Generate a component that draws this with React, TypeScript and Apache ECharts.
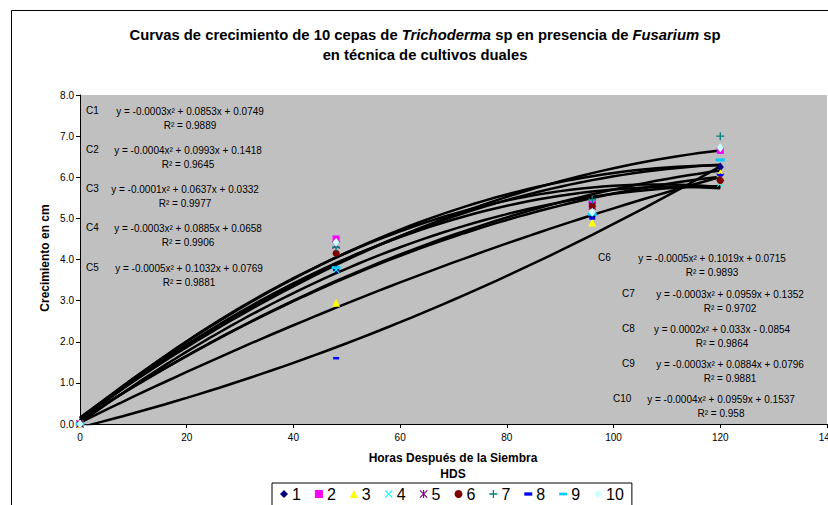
import React, { useEffect, useRef } from 'react';
import * as echarts from 'echarts';

// ---- Data ----
const hours = [0, 48, 96, 120];
const seriesNames = ['1', '2', '3', '4', '5', '6', '7', '8', '9', '10'];
const s1 = [0, 3.75, 5.05, 6.25];
const s2 = [0, 4.5, 5.35, 6.65];
const s3 = [0, 2.95, 4.9, 6.1];
const s4 = [0, 3.75, 5.4, 5.85];
const s5 = [0, 4.35, 5.3, 6.0];
const s6 = [0, 4.15, 5.3, 5.92];
const s7 = [0, 4.3, 5.45, 7.0];
const s8 = [0, 1.6, 5.0, 6.05];
const s9 = [0, 3.8, 5.1, 6.42];
const s10 = [0, 4.42, 5.15, 6.72];
const seriesValues = [s1, s2, s3, s4, s5, s6, s7, s8, s9, s10];

const xMin = 0, xMax = 140, xStep = 20;
const yMin = 0, yMax = 8, yStep = 1;

const strainLabels = ['C1', 'C2', 'C3', 'C4', 'C5', 'C6', 'C7', 'C8', 'C9', 'C10'];
const equations = [
  'y = -0.0003x² + 0.0853x + 0.0749',
  'y = -0.0004x² + 0.0993x + 0.1418',
  'y = -0.0001x² + 0.0637x + 0.0332',
  'y = -0.0003x² + 0.0885x + 0.0658',
  'y = -0.0005x² + 0.1032x + 0.0769',
  'y = -0.0005x² + 0.1019x + 0.0715',
  'y = -0.0003x² + 0.0959x + 0.1352',
  'y = 0.0002x² + 0.033x - 0.0854',
  'y = -0.0003x² + 0.0884x + 0.0796',
  'y = -0.0004x² + 0.0959x + 0.1537',
];
const r2Values = ['0.9889', '0.9645', '0.9977', '0.9906', '0.9881', '0.9893', '0.9702', '0.9864', '0.9881', '0.958'];

// ---- Styles ----
const colors = ['#000080', '#FF00FF', '#FFFF00', '#00FFFF', '#800080', '#800000', '#008080', '#0000FF', '#00CCFF', '#CCFFFF'];
const X_PATH = 'path://M0,1 L1,0 L5,4 L9,0 L10,1 L6,5 L10,9 L9,10 L5,6 L1,10 L0,9 L4,5 Z';
const STAR_PATH = 'path://M0,1 L1,0 L5,4 L9,0 L10,1 L6,5 L10,9 L9,10 L5,6 L1,10 L0,9 L4,5 Z M4.3,0 L5.7,0 L5.7,10 L4.3,10 Z';
const PLUS_PATH = 'path://M4.2,0 L5.8,0 L5.8,4.2 L10,4.2 L10,5.8 L5.8,5.8 L5.8,10 L4.2,10 L4.2,5.8 L0,5.8 L0,4.2 L4.2,4.2 Z';
const DASH_S = 'path://M0,0 L6,0 L6,2.5 L0,2.5 Z';
const DASH_L = 'path://M0,0 L9,0 L9,3 L0,3 Z';
const symbols = ['diamond', 'rect', 'triangle', X_PATH, STAR_PATH, 'circle', PLUS_PATH, DASH_S, DASH_L, 'diamond'];
const symbolSizes: any[] = [[7, 9], 7, 8, 7, 8, 7, 8, [6, 2.5], [9, 3], [7, 9]];

const FONT = 'Liberation Sans, Arial, sans-serif';

function quadFit(xs: number[], ys: number[]) {
  let n = xs.length, sx = 0, sx2 = 0, sx3 = 0, sx4 = 0, sy = 0, sxy = 0, sx2y = 0;
  for (let i = 0; i < n; i++) {
    const x = xs[i], y = ys[i];
    sx += x; sx2 += x * x; sx3 += x * x * x; sx4 += x * x * x * x;
    sy += y; sxy += x * y; sx2y += x * x * y;
  }
  const M = [
    [sx4, sx3, sx2, sx2y],
    [sx3, sx2, sx, sxy],
    [sx2, sx, n, sy],
  ];
  for (let c = 0; c < 3; c++) {
    let p = c;
    for (let r = c + 1; r < 3; r++) if (Math.abs(M[r][c]) > Math.abs(M[p][c])) p = r;
    [M[c], M[p]] = [M[p], M[c]];
    for (let r = 0; r < 3; r++) {
      if (r === c) continue;
      const f = M[r][c] / M[c][c];
      for (let k = c; k < 4; k++) M[r][k] -= f * M[c][k];
    }
  }
  return [M[0][3] / M[0][0], M[1][3] / M[1][1], M[2][3] / M[2][2]];
}

function trendPoints(vals: number[]) {
  const [a, b, c] = quadFit(hours, vals);
  const pts: number[][] = [];
  const x0 = hours[0], x1 = hours[hours.length - 1];
  for (let x = x0; x <= x1; x += 2) pts.push([x, a * x * x + b * x + c]);
  return pts;
}

export default function App() {
  const ref = useRef<HTMLDivElement>(null);
  useEffect(() => {
    if (!ref.current) return;
    const chart = echarts.init(ref.current, undefined, { renderer: 'svg' });

    const trendSeries = seriesValues.map((vals, i) => ({
      name: 'trend' + (i + 1),
      type: 'line',
      data: trendPoints(vals),
      showSymbol: false,
      symbol: 'none',
      silent: true,
      z: 2,
      lineStyle: { color: '#000', width: 2.5 },
    }));

    const scatterSeries = seriesValues.map((vals, i) => ({
      name: seriesNames[i],
      type: 'scatter',
      data: hours.map((h, j) => [h, vals[j]]),
      symbol: symbols[i],
      symbolSize: symbolSizes[i],
      z: 5,
      itemStyle: { color: colors[i], opacity: 1 },
    }));

    const leftRows = [110, 149, 188, 227, 267];
    const leftCenters = [190, 188, 185, 188, 189];
    const rightRows = [257, 293, 328, 363, 398];
    const rightLabelX = [598, 622, 622, 622, 613];
    const rightCenters = [712, 730, 722, 730, 721];
    const eqGraphics: any[] = [];
    for (let i = 0; i < 10; i++) {
      const left = i < 5;
      const k = left ? i : i - 5;
      const y = left ? leftRows[k] : rightRows[k];
      const lx = left ? 86 : rightLabelX[k];
      const cx = left ? leftCenters[k] : rightCenters[k];
      eqGraphics.push({
        type: 'text', x: lx, y: y, silent: true,
        style: { text: strainLabels[i], fill: '#000', font: `10px ${FONT}`, textAlign: 'left', textVerticalAlign: 'middle' },
      });
      eqGraphics.push({
        type: 'text', x: cx, y: y - 6, silent: true,
        style: { text: equations[i] + '\nR² = ' + r2Values[i], fill: '#000', font: `10px ${FONT}`, lineHeight: 14, textAlign: 'center', textVerticalAlign: 'top' },
      });
    }

    const option: any = {
      animation: false,
      backgroundColor: '#fff',
      textStyle: { fontFamily: FONT },
      grid: { left: 80, top: 95, right: 1, bottom: 81, show: true, backgroundColor: '#C0C0C0', borderWidth: 0, outerBoundsMode: 'none', containLabel: false },
      xAxis: {
        type: 'value', min: xMin, max: xMax, interval: xStep,
        axisLine: { show: true, onZero: false, lineStyle: { color: '#000', width: 1 } },
        axisTick: { show: true, length: 4, lineStyle: { color: '#000' } },
        axisLabel: { fontSize: 10, color: '#000', margin: 8, fontFamily: FONT, showMaxLabel: true, hideOverlap: false },
        splitLine: { show: false },
      },
      yAxis: {
        type: 'value', min: yMin, max: yMax, interval: yStep,
        axisLine: { show: true, onZero: false, lineStyle: { color: '#000', width: 1 } },
        axisTick: { show: true, length: 4, lineStyle: { color: '#000' } },
        axisLabel: { fontSize: 10, color: '#000', margin: 6, fontFamily: FONT, formatter: (v: number) => v.toFixed(1) },
        splitLine: { show: false },
      },
      legend: {
        data: seriesNames,
        left: 272, top: 483,
        orient: 'horizontal',
        itemWidth: 8, itemHeight: 8, itemGap: 14,
        borderColor: '#000', borderWidth: 1, backgroundColor: '#fff',
        padding: [3, 8, 10, 8],
        textStyle: { fontSize: 16, color: '#000', fontFamily: FONT, padding: [0, 0, 0, -1] },
      },
      graphic: [
        {
          type: 'rect', silent: true, z: -10,
          shape: { x: 11.5, y: 10.5, width: 840, height: 520 },
          style: { fill: 'none', stroke: '#000', lineWidth: 1 },
        },
        {
          type: 'text', x: 425, y: 35, silent: true,
          style: {
            text: '{b|Curvas de crecimiento de 10 cepas de }{i|Trichoderma}{b| sp en presencia de }{i|Fusarium}{b| sp}',
            rich: {
              b: { fontFamily: FONT, fontSize: 14.8, fontWeight: 'bold', fill: '#000' },
              i: { fontFamily: FONT, fontSize: 14.8, fontWeight: 'bold', fontStyle: 'italic', fill: '#000' },
            },
            textAlign: 'center', textVerticalAlign: 'middle',
          },
        },
        {
          type: 'text', x: 425, y: 55, silent: true,
          style: { text: 'en técnica de cultivos duales', fill: '#000', font: `bold 14.8px ${FONT}`, textAlign: 'center', textVerticalAlign: 'middle' },
        },
        {
          type: 'text', x: 45, y: 258, rotation: Math.PI / 2, silent: true,
          style: { text: 'Crecimiento en cm', fill: '#000', font: `bold 12px ${FONT}`, textAlign: 'center', textVerticalAlign: 'middle' },
        },
        {
          type: 'text', x: 453, y: 458, silent: true,
          style: { text: 'Horas Después de la Siembra', fill: '#000', font: `bold 12px ${FONT}`, textAlign: 'center', textVerticalAlign: 'middle' },
        },
        {
          type: 'text', x: 453, y: 474, silent: true,
          style: { text: 'HDS', fill: '#000', font: `bold 12px ${FONT}`, textAlign: 'center', textVerticalAlign: 'middle' },
        },
        ...eqGraphics,
      ],
      series: [...trendSeries, ...scatterSeries],
    };
    chart.setOption(option);
    return () => chart.dispose();
  }, []);
  return <div ref={ref} style={{ position: 'fixed', left: 0, top: 0, width: 828, height: 505, background: '#fff' }} />;
}
